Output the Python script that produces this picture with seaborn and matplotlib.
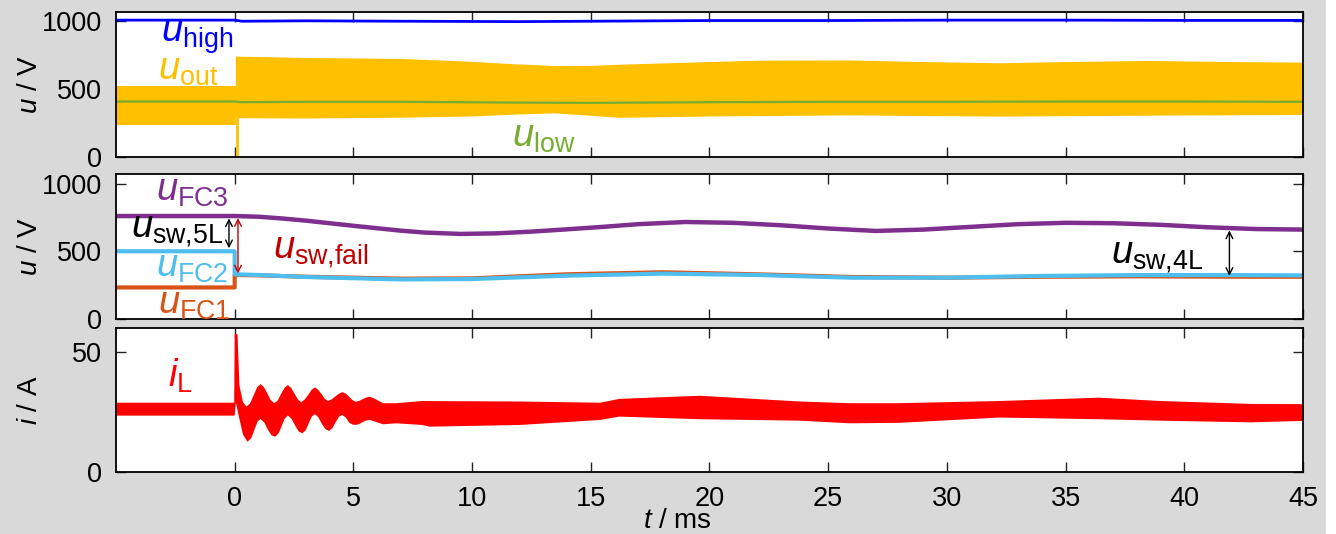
import numpy as np
import pandas as pd
import matplotlib
matplotlib.use("Agg")
import matplotlib.pyplot as plt
from matplotlib.patches import Rectangle
import seaborn as sns

# ---- values read off the scope capture (t in ms) ----
# panel 1: DC-link voltages
t_high = [-5, 0, 0.3, 3, 7, 12, 15, 20, 25, 30, 35, 40, 45]
u_high = [1008, 1008, 1000, 1003, 1000, 997, 1000, 1005, 1005, 1008, 1008, 1006, 1006]

t_low = [-5, 0, 0.3, 3, 7, 12, 15, 20, 25, 30, 35, 40, 45]
u_low = [410, 410, 405, 408, 408, 402, 400, 405, 408, 408, 410, 410, 408]

t_out_up = [-5, 0.05, 0.05, 3, 7, 10, 11.5, 13.5, 15, 16.5, 19.6, 22, 25.9, 29, 32.2, 35, 38.5, 42, 45]
u_out_up = [524, 524, 740, 730, 723, 702, 686, 671, 672, 682, 698, 710, 712, 700, 691, 700, 708, 700, 696]
t_out_lo = [-5, 0.05, 0.05, 3, 7, 10, 12, 13.5, 15, 16.2, 20, 25.9, 32.2, 38.5, 45]
u_out_lo = [237, 237, 287, 285, 291, 300, 315, 323, 305, 290, 300, 308, 299, 306, 311]
t_out_spike = [0.11, 0.11]
u_out_spike = [290, 0]

# panel 2: flying capacitor voltages
t_fc3 = [-5, 0, 1, 2, 3, 4, 5, 6, 7, 8, 9.5, 11, 12.5, 14, 15.5, 17, 19, 21, 23, 25,
         27, 29, 31, 33, 35, 37, 39, 41, 43, 45]
u_fc3 = [760, 760, 755, 742, 726, 707, 688, 670, 652, 638, 628, 632, 645, 662, 680, 700,
         716, 710, 692, 668, 650, 660, 680, 700, 710, 707, 695, 677, 664, 660]

t_fc2 = [-5, 0, 0, 1, 3, 7, 10, 14, 18, 22, 26, 30, 34, 38, 42, 45]
u_fc2 = [500, 500, 330, 325, 310, 292, 295, 320, 335, 325, 305, 305, 318, 324, 324, 322]

t_fc1 = [-5, 0, 0, 1, 3, 7, 10, 14, 18, 22, 26, 30, 34, 38, 42, 45]
u_fc1 = [233, 233, 325, 322, 312, 298, 300, 330, 345, 330, 310, 305, 312, 315, 312, 312]

# switch voltage arrows: (t, u_top, u_bottom)
sw5l = (-0.24, 743, 522)
swfail = (0.14, 745, 336)
sw4l = (41.9, 654, 318)

# panel 3: inductor current envelope
t_il_up = [-5, -0.02, 0.0, 0.12, 0.2, 0.35, 0.5, 0.65, 0.8, 0.95, 1.09, 1.23, 1.38, 1.52, 1.67,
           1.82, 1.95, 2.1, 2.24, 2.38, 2.52, 2.66, 2.8, 2.95, 3.1, 3.24, 3.38, 3.52, 3.66,
           3.8, 3.94, 4.1, 4.25, 4.4, 4.53, 4.67, 4.82, 4.96, 5.1, 5.25, 5.4, 5.55, 5.7,
           5.95, 6.25, 6.8, 7.9, 12, 15.4, 16.2, 19.6, 23.8, 25.9, 28, 32.2, 36.4, 39, 42.8, 45]
i_il_up = [28.8, 28.8, 57.4, 57.4, 36, 29, 27.2, 28.5, 31.9, 35.3, 36.6, 35.3, 32.6, 29.8, 28.6,
           29.8, 32.4, 35.0, 36.2, 35.0, 32.6, 30.2, 29.0, 30.1, 32.1, 34.2, 35.2, 34.2, 32.4,
           30.4, 29.5, 30.3, 31.5, 32.6, 33.2, 32.7, 31.3, 29.9, 29.2, 29.6, 30.3, 31.0, 31.3,
           30.2, 28.6, 28.6, 29.5, 29.3, 28.8, 30.4, 31.7, 29.3, 28.6, 28.6, 29.5, 30.9, 29.5, 28.3, 28.2]
t_il_lo = [-5, 0.0, 0.05, 0.2, 0.35, 0.54, 0.7, 0.85, 0.97, 1.09, 1.25, 1.4, 1.55, 1.71,
           1.85, 1.98, 2.1, 2.24, 2.4, 2.55, 2.7, 2.85, 3.0, 3.12, 3.25, 3.38, 3.52, 3.67,
           3.82, 3.97, 4.12, 4.26, 4.4, 4.53, 4.68, 4.82, 4.96, 5.1, 5.25, 5.4, 5.55, 5.7,
           6.25, 6.8, 7.9, 8.2, 12, 15.4, 16.2, 19.6, 23.8, 25.9, 28, 32.2, 36.4, 39, 42.8, 45]
i_il_lo = [23.4, 23.4, 29, 22, 15.5, 12.5, 14, 18, 21, 22, 20.5, 17.5, 15.2, 14.6,
           16, 19, 22, 23.5, 22, 19.2, 16.8, 16, 17.4, 20.2, 23, 24, 22.8, 20, 17.8, 17,
           18.2, 20.8, 23, 23.7, 22.6, 20.5, 19.7, 19.5, 19.9, 20.8, 21.4, 21.6,
           19.8, 20.2, 19.5, 18.8, 19.5, 21.6, 23, 21.9, 21.3, 20.2, 20.4, 22.6, 21.9, 21.3, 20.6, 21.2]

x_ticks = [0, 5, 10, 15, 20, 25, 30, 35, 40, 45]

# ---- style ----
sns.set_theme(style="ticks")
plt.rcParams["font.family"] = ["Liberation Sans", "DejaVu Sans"]
plt.rcParams["mathtext.fontset"] = "custom"
plt.rcParams["mathtext.rm"] = "Liberation Sans"
plt.rcParams["mathtext.it"] = "Liberation Sans:italic"
plt.rcParams["mathtext.bf"] = "Liberation Sans:bold"
for k in ("text.color", "axes.labelcolor", "xtick.color", "ytick.color"):
    plt.rcParams[k] = "black"

C_HIGH = "#0000ff"
C_OUT = "#ffc000"
C_LOW = "#77ac30"
C_FC3 = "#7e2f8e"
C_FC2 = "#4dbeee"
C_FC1 = "#d95319"
C_IL = "#ff0000"
C_FAIL = "#c00000"

fig = plt.figure(figsize=(13.36, 5.34), dpi=100, facecolor="#d9d9d9")
fig.patches.append(Rectangle((0.9925, 0), 0.0075, 1, transform=fig.transFigure,
                             color="white", zorder=-1))
ax1 = fig.add_axes([0.0868, 0.7054, 0.8885, 0.2727])
ax2 = fig.add_axes([0.0868, 0.4026, 0.8885, 0.2715])
ax3 = fig.add_axes([0.0868, 0.1167, 0.8885, 0.2691])


def line(ax, t, v, color, lw):
    df = pd.DataFrame({"t": t, "v": v})
    sns.lineplot(data=df, x="t", y="v", ax=ax, color=color, lw=lw,
                 estimator=None, sort=False)


def band(ax, t_up, v_up, t_lo, v_lo, color):
    xs = np.concatenate([t_up, t_lo[::-1]])
    ys = np.concatenate([v_up, v_lo[::-1]])
    ax.fill(xs, ys, color=color, lw=0)


LBL = 27.5

# panel 1
band(ax1, t_out_up, u_out_up, t_out_lo, u_out_lo, C_OUT)
line(ax1, t_out_spike, u_out_spike, C_OUT, 2)
line(ax1, t_low, u_low, C_LOW, 1.6)
line(ax1, t_high, u_high, C_HIGH, 2)
ax1.text(-3.1, 885, r"$u_{\mathrm{high}}$", color=C_HIGH, fontsize=LBL, ha="left", va="center")
ax1.text(-3.24, 638, r"$u_{\mathrm{out}}$", color=C_OUT, fontsize=LBL, ha="left", va="center")
ax1.text(11.7, 150, r"$u_{\mathrm{low}}$", color=C_LOW, fontsize=LBL, ha="left", va="center")

# panel 2
line(ax2, t_fc1, u_fc1, C_FC1, 3)
line(ax2, t_fc2, u_fc2, C_FC2, 3)
line(ax2, t_fc3, u_fc3, C_FC3, 3.2)
for (t, a, b), col in [(sw5l, "black"), (swfail, C_FAIL), (sw4l, "black")]:
    ax2.annotate("", xy=(t, a), xytext=(t, b),
                 arrowprops=dict(arrowstyle="<->", color=col, lw=1, mutation_scale=12,
                                 shrinkA=0, shrinkB=0))
ax2.text(-3.32, 948, r"$u_{\mathrm{FC3}}$", color=C_FC3, fontsize=LBL, ha="left", va="center")
ax2.text(-4.38, 647, r"$u_{\mathrm{sw{,}5L}}$", color="black", fontsize=LBL, ha="left", va="center")
ax2.text(-3.32, 382, r"$u_{\mathrm{FC2}}$", color=C_FC2, fontsize=LBL, ha="left", va="center")
ax2.text(-3.24, 110, r"$u_{\mathrm{FC1}}$", color=C_FC1, fontsize=LBL, ha="left", va="center")
ax2.text(1.6, 493, r"$u_{\mathrm{sw{,}fail}}$", color=C_FAIL, fontsize=LBL, ha="left", va="center")
ax2.text(36.9, 456, r"$u_{\mathrm{sw{,}4L}}$", color="black", fontsize=LBL, ha="left", va="center")

# panel 3
band(ax3, t_il_up, i_il_up, t_il_lo, i_il_lo, C_IL)
ax3.text(-2.82, 40, r"$i_{\mathrm{L}}$", color=C_IL, fontsize=LBL, ha="left", va="center")

for ax in (ax1, ax2, ax3):
    ax.set_facecolor("white")
    ax.set_xlim(-5, 45)
    ax.set_xticks(x_ticks)
    ax.tick_params(direction="in", length=7, width=1, top=True, right=True,
                   labelsize=19.5, pad=10, color="#222222", labelcolor="black")
    for s in ax.spines.values():
        s.set_linewidth(1.3)
        s.set_color("black")
    ax.set_xlabel("")
    ax.yaxis.set_label_coords(-0.0615, 0.5)

for ax in (ax1, ax2):
    ax.set_ylim(0, 1070)
    ax.set_yticks([0, 500, 1000])
    ax.set_ylabel(r"$u$ / V", fontsize=20)
    ax.tick_params(labelbottom=False)

ax3.set_ylim(0, 60)
ax3.set_yticks([0, 50])
ax3.set_ylabel(r"$i$ / A", fontsize=20)
ax3.set_xlabel(r"$t$ / ms", fontsize=20)
ax3.xaxis.set_label_coords(0.473, -0.25)

fig.savefig("out.png", dpi=100, facecolor=fig.get_facecolor())
